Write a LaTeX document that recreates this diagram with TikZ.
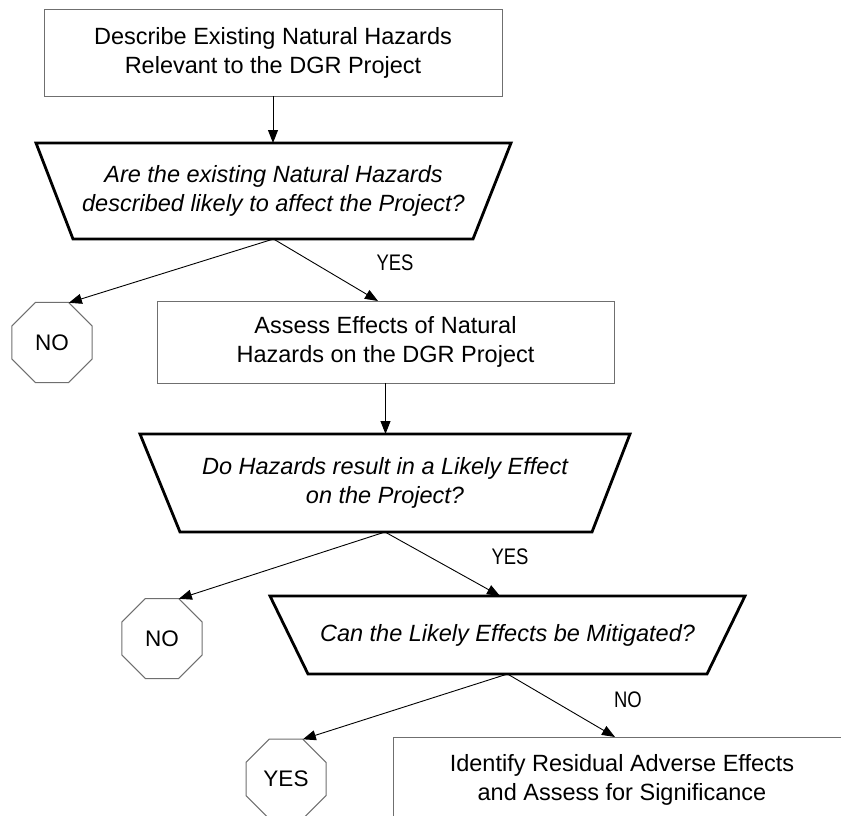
\documentclass[tikz,border=0pt]{standalone}
\usepackage{fontspec}
\setmainfont{Liberation Sans}
\newfontfamily\lblfont[FakeStretch=0.82]{Liberation Sans}
\usetikzlibrary{shapes.geometric,arrows.meta}
\definecolor{boxgray}{HTML}{6F6F6F}
\begin{document}
\begin{tikzpicture}[x=1pt,y=-1pt,
  procbox/.style={draw=boxgray, line width=1pt, rectangle, inner sep=0pt, outer sep=0pt, align=center, font=\fontsize{23.5}{29}\selectfont},
  decbox/.style={rectangle, inner sep=0pt, outer sep=0pt, align=center, font=\fontsize{23.5}{29}\selectfont\itshape},
  stopoct/.style={draw=boxgray, line width=1pt, regular polygon, regular polygon sides=8, minimum size=86.6pt, inner sep=0pt, outer sep=0pt, font=\fontsize{22.5}{26}\selectfont},
  flow/.style={draw=black, line width=0.9pt, -{Triangle[length=13pt,width=10pt]}},
  trap/.style={draw=black, line width=2.8pt, line join=miter},
  lbl/.style={font=\lblfont\fontsize{22.5}{26}\selectfont, inner sep=0pt}
]
\useasboundingbox (0,0) rectangle (841,816);
\clip (0,0) rectangle (841,816);

% process boxes
\node[procbox, minimum width=458pt, minimum height=86pt] (b1) at (273,53) {Describe Existing Natural Hazards\\Relevant to the DGR Project};
\node[procbox, minimum width=457pt, minimum height=82pt] (b2) at (385.5,342) {Assess Effects of Natural\\Hazards on the DGR Project};
\node[procbox, minimum width=458pt, minimum height=86pt] (b3) at (622,780) {Identify Residual Adverse Effects\\and Assess for Significance};

% decisions
\node[decbox, minimum width=475pt, minimum height=96pt] (q1) at (273.5,191) {Are the existing Natural Hazards\\described likely to affect the Project?};
\draw[trap] (q1.north west) -- (q1.north east) -- ([xshift=-38pt]q1.south east) -- ([xshift=37pt]q1.south west) -- cycle;

\node[decbox, minimum width=490pt, minimum height=98pt] (q2) at (385,483) {Do Hazards result in a Likely Effect\\on the Project?};
\draw[trap] (q2.north west) -- (q2.north east) -- ([xshift=-38pt]q2.south east) -- ([xshift=40pt]q2.south west) -- cycle;

\node[decbox, minimum width=475pt, minimum height=78pt] (q3) at (507.5,635) {Can the Likely Effects be Mitigated?};
\draw[trap] (q3.north west) -- (q3.north east) -- ([xshift=-38pt]q3.south east) -- ([xshift=38pt]q3.south west) -- cycle;

% terminators
\node[stopoct] (o1) at (52,342.5) {NO};
\node[stopoct] (o2) at (162,638.5) {NO};
\node[stopoct] (o3) at (286,779) {YES};

% connectors
\draw[flow] (b1.south) -- (b1.south |- q1.north);
\draw[flow] (q1.south) -- (o1.67.5);
\draw[flow] (q1.south) -- ([xshift=-7.5pt]b2.north);
\draw[flow] (b2.south) -- (b2.south |- q2.north);
\draw[flow] (q2.south) -- (o2.67.5);
\draw[flow] (q2.south) -- ([xshift=-7.5pt]q3.north);
\draw[flow] (q3.south) -- (o3.67.5);
\draw[flow] (q3.south) -- ([xshift=-7pt]b3.north);

% labels
\node[lbl] (y1) at (395,263) {YES};
\node[lbl] (y2) at (510,557) {YES};
\node[lbl] (n3) at (628,700) {NO};
\end{tikzpicture}
\end{document}
